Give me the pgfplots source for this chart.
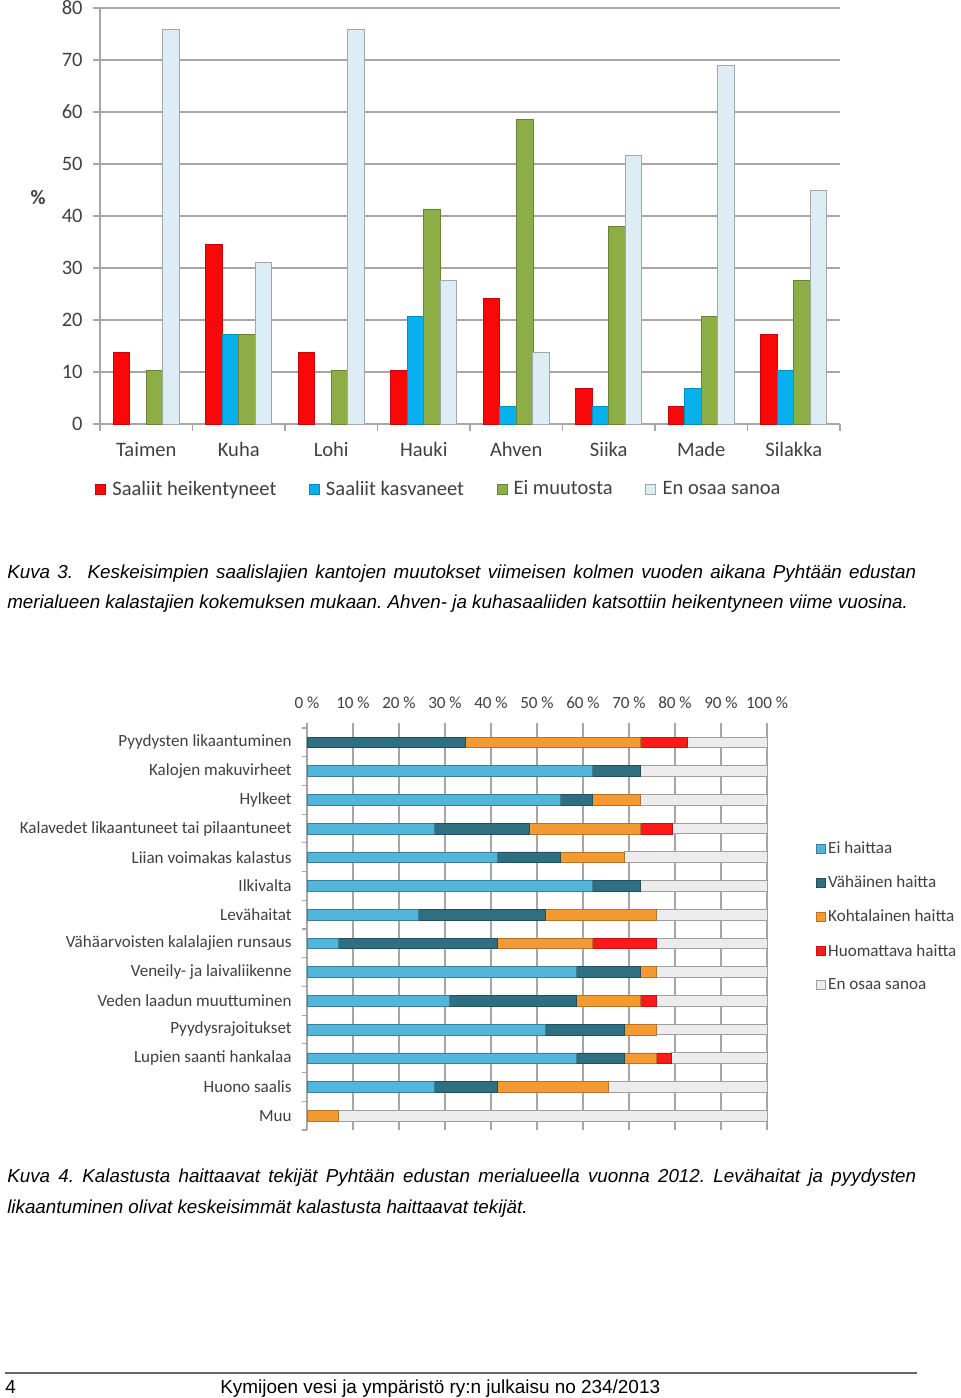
\documentclass[border=0pt]{standalone}
\usepackage{pgfplots}
\pgfplotsset{compat=1.18}
\usepackage{fontspec}
\setmainfont{Carlito}
\newfontfamily\capfont{Liberation Sans}
\definecolor{axgray}{HTML}{A6A6A6}
\definecolor{txt}{HTML}{404040}
% chart 1
\definecolor{c1red}{HTML}{F80808}
\definecolor{c1blue}{HTML}{08B0EE}
\definecolor{c1green}{HTML}{8DAE46}
\definecolor{c1light}{HTML}{DCEDF5}
% chart 2
\definecolor{eiC}{HTML}{52B6DB}
\definecolor{vaC}{HTML}{2F6F82}
\definecolor{koC}{HTML}{F39A32}
\definecolor{huC}{HTML}{FF1A1A}
\definecolor{enC}{HTML}{ECECEC}
\newcommand{\capf}{\capfont\itshape\fontsize{14.1}{16}\selectfont}
\begin{document}
\frenchspacing
\begin{tikzpicture}
\fill[white] (0,0) rectangle (720pt,-1048.5pt);
\useasboundingbox (0,0) rectangle (720pt,-1048.5pt);

% ---------------- Chart 1 ----------------
\begin{axis}[
  at={(75pt,-318pt)}, anchor=south west, scale only axis,
  width=555pt, height=312pt,
  xmin=-0.5, xmax=7.5, ymin=0, ymax=80,
  ybar=0pt, bar width=12.4pt,
  axis lines*=left,
  axis line style={draw=axgray, line width=0.8pt},
  ytick={0,10,...,80},
  ymajorgrids, grid style={draw=axgray, line width=0.8pt},
  tick style={draw=axgray, line width=0.8pt},
  tick align=outside, major tick length=5.5pt,
  /pgf/number format/assume math mode=true,
  yticklabel style={font=\fontsize{15.4}{18}\selectfont, text=txt, xshift=-4pt},
  xtick={-0.5,0.5,...,7.5},
  xticklabels={Taimen,Kuha,Lohi,Hauki,Ahven,Siika,Made,Silakka,{}},
  xticklabel style={font=\fontsize{15.4}{18}\selectfont, text=txt, xshift=34.6875pt, yshift=-5pt},
  legend columns=4,
  legend style={at={(0.459,-0.156)}, anchor=center, draw=none, fill=none,
    font=\fontsize{15.4}{18}\selectfont, text=txt,
    /tikz/every even column/.append style={column sep=22pt},
    nodes={inner sep=2.5pt}},
  legend image code/.code={\fill[#1] (0pt,-3.75pt) rectangle (7.5pt,3.75pt); \path (9.75pt,0pt);},
  clip=false,
]
\addplot[draw=c1red!80!black, line width=0.4pt, fill=c1red]
  coordinates {(0,13.79) (1,34.48) (2,13.79) (3,10.34) (4,24.14) (5,6.90) (6,3.45) (7,17.24)};
\addplot[draw=c1blue!80!black, line width=0.4pt, fill=c1blue]
  coordinates {(1,17.24) (3,20.69) (4,3.45) (5,3.45) (6,6.90) (7,10.34)};
\addplot[draw=c1green!75!black, line width=0.4pt, fill=c1green]
  coordinates {(0,10.34) (1,17.24) (2,10.34) (3,41.38) (4,58.62) (5,37.93) (6,20.69) (7,27.59)};
\addplot[draw=gray!70, line width=0.6pt, fill=c1light]
  coordinates {(0,75.86) (1,31.03) (2,75.86) (3,27.59) (4,13.79) (5,51.72) (6,68.97) (7,44.83)};
\legend{Saaliit heikentyneet,Saaliit kasvaneet,Ei muutosta,En osaa sanoa}
\end{axis}
\node[font=\bfseries\fontsize{15.4}{18}\selectfont, text=txt] at (28.5pt,-148.5pt) {\%};

% ---------------- Caption 1 ----------------
\node[anchor=base west, inner sep=0pt] at (5.25pt,-433.7pt)
  {\capf\hbox to 681.75pt{Kuva 3.\ \ Keskeisimpien saalislajien kantojen muutokset viimeisen kolmen vuoden aikana Pyhtään edustan}};
\node[anchor=base west, inner sep=0pt] at (5.25pt,-456.7pt)
  {\capf merialueen kalastajien kokemuksen mukaan. Ahven- ja kuhasaaliiden katsottiin heikentyneen viime vuosina.};

% ---------------- Chart 2 ----------------
\begin{axis}[
  at={(230.25pt,-847.5pt)}, anchor=south west, scale only axis,
  width=345pt, height=301.5pt,
  xbar stacked, bar width=8pt,
  xmin=0, xmax=100, ymin=-0.5, ymax=13.5, y dir=reverse,
  axis y line*=left, axis x line*=top,
  x axis line style={draw=none},
  y axis line style={draw=axgray, line width=0.8pt},
  xtick={0,10,...,100},
  xticklabels={0 \%,10 \%,20 \%,30 \%,40 \%,50 \%,60 \%,70 \%,80 \%,90 \%,100 \%},
  xmajorgrids, grid style={draw=axgray, line width=0.8pt},
  tick style={draw=axgray, line width=0.8pt},
  tick align=outside, major tick length=4pt,
  xticklabel style={font=\fontsize{12.8}{15}\selectfont, text=txt, yshift=7pt},
  ytick={-0.5,0.5,...,13.5},
  yticklabels={Pyydysten likaantuminen,Kalojen makuvirheet,Hylkeet,Kalavedet likaantuneet tai pilaantuneet,Liian voimakas kalastus,Ilkivalta,Levähaitat,Vähäarvoisten kalalajien runsaus,Veneily- ja laivaliikenne,Veden laadun muuttuminen,Pyydysrajoitukset,Lupien saanti hankalaa,Huono saalis,Muu,{}},
  yticklabel style={font=\fontsize{12.8}{15}\selectfont, text=txt, yshift=-10.768pt, xshift=-4pt},
  legend style={at={(1.098,0.73)}, anchor=north west, draw=none, fill=none,
    font=\fontsize{12.8}{15}\selectfont, text=txt, row sep=12.3pt,
    nodes={inner sep=1.5pt}},
  legend cell align=left,
  legend image code/.code={\fill[#1] (0pt,-3.4pt) rectangle (6.8pt,3.4pt);},
  clip=false,
]
\addplot[draw=eiC!70!black, line width=0.5pt, fill=eiC]
  coordinates {(0,0) (62.07,1) (55.17,2) (27.59,3) (41.38,4) (62.07,5) (24.14,6) (6.90,7) (58.62,8) (31.03,9) (51.72,10) (58.62,11) (27.59,12) (0,13)};
\addplot[draw=vaC!70!black, line width=0.5pt, fill=vaC]
  coordinates {(34.48,0) (10.34,1) (6.90,2) (20.69,3) (13.79,4) (10.34,5) (27.59,6) (34.48,7) (13.79,8) (27.59,9) (17.24,10) (10.34,11) (13.79,12) (0,13)};
\addplot[draw=koC!75!black, line width=0.5pt, fill=koC]
  coordinates {(37.93,0) (0,1) (10.34,2) (24.14,3) (13.79,4) (0,5) (24.14,6) (20.69,7) (3.45,8) (13.79,9) (6.90,10) (6.90,11) (24.14,12) (6.90,13)};
\addplot[draw=huC!75!black, line width=0.5pt, fill=huC]
  coordinates {(10.34,0) (0,1) (0,2) (6.90,3) (0,4) (0,5) (0,6) (13.79,7) (0,8) (3.45,9) (0,10) (3.45,11) (0,12) (0,13)};
\addplot[draw=gray!75, line width=0.6pt, fill=enC]
  coordinates {(17.24,0) (27.59,1) (27.59,2) (20.69,3) (31.03,4) (27.59,5) (24.14,6) (24.14,7) (24.14,8) (24.14,9) (24.14,10) (20.69,11) (34.48,12) (93.10,13)};
\legend{Ei haittaa,Vähäinen haitta,Kohtalainen haitta,Huomattava haitta,En osaa sanoa}
\end{axis}

% ---------------- Caption 2 ----------------
\node[anchor=base west, inner sep=0pt] at (5.25pt,-887pt)
  {\capf\hbox to 681.75pt{Kuva 4. Kalastusta haittaavat tekijät Pyhtään edustan merialueella vuonna 2012. Levähaitat ja pyydysten}};
\node[anchor=base west, inner sep=0pt] at (5.25pt,-909.75pt)
  {\capf likaantuminen olivat keskeisimmät kalastusta haittaavat tekijät.};

% ---------------- Footer ----------------
\draw[gray!80!black, line width=1pt] (3.75pt,-1029.75pt) -- (687.75pt,-1029.75pt);
\node[anchor=base west, inner sep=0pt, font=\capfont\fontsize{14.2}{16}\selectfont] at (3.75pt,-1044.75pt) {4};
\node[anchor=base west, inner sep=0pt, font=\capfont\fontsize{14.2}{16}\selectfont] at (165pt,-1044.75pt) {Kymijoen vesi ja ympäristö ry:n julkaisu no 234/2013};
\end{tikzpicture}
\end{document}
